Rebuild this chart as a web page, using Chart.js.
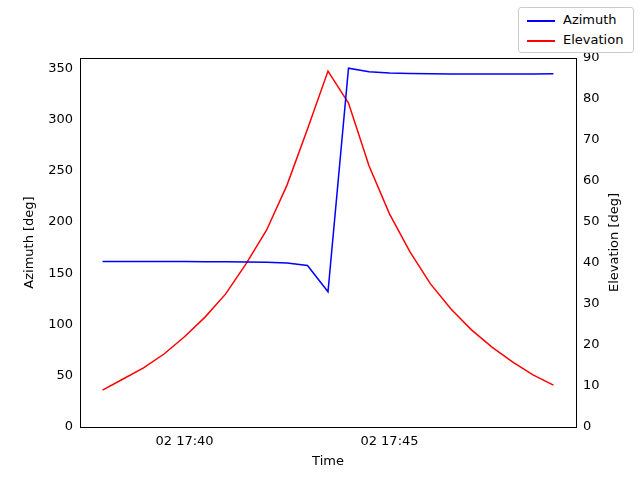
<!DOCTYPE html>
<html>
<head>
<meta charset="utf-8">
<script src="https://cdn.jsdelivr.net/npm/chart.js@4"></script>
<style>
body { margin: 0; background: #fff; }
#wrap { position: relative; width: 640px; height: 480px; }
#legend { position: absolute; left: 518px; top: 7px; width: 114px; height: 44px; border: 1px solid #ccc; border-radius: 3px; background: #fff;
  font: 13px "DejaVu Sans", sans-serif; color: #000; }
#legend div { height: 20px; line-height: 20px; padding-left: 8px; }
#legend span { display: inline-block; width: 28px; height: 2px; vertical-align: middle; margin-right: 8px; }
</style>
</head>
<body>
<div id="wrap">
<canvas id="c" width="640" height="480"></canvas>
<div id="legend">
  <div style="margin-top:2px"><span style="background:blue"></span>Azimuth</div>
  <div><span style="background:red"></span>Elevation</div>
</div>
</div>
<script>
// minutes after 17:00, every 30 s
const times = [38, 38.5, 39, 39.5, 40, 40.5, 41, 41.5, 42, 42.5, 43, 43.5, 44, 44.5, 45, 45.5, 46, 46.5, 47, 47.5, 48, 48.5, 49];
const azimuth = [161.5, 161.5, 161.5, 161.5, 161.4, 161.3, 161.2, 161, 160.7, 160, 157.5, 132, 350, 346.5, 345.3, 344.9, 344.6, 344.5, 344.5, 344.5, 344.5, 344.5, 344.6];
const elevation = [9, 11.7, 14.4, 17.8, 22, 26.8, 32.4, 39.8, 48, 59, 72.7, 86.8, 79, 63.7, 52, 42.7, 34.9, 28.8, 23.7, 19.5, 15.9, 12.7, 10.2];
const timeTicks = [40, 45];

const font = { family: "DejaVu Sans", size: 13 };
const pts = arr => times.map((t, i) => ({ x: t, y: arr[i] }));

new Chart(document.getElementById("c"), {
    type: "line",
    data: {
        datasets: [
            { label: "Azimuth", data: pts(azimuth), borderColor: "blue", borderWidth: 1.5, pointRadius: 0, yAxisID: "y" },
            { label: "Elevation", data: pts(elevation), borderColor: "red", borderWidth: 1.5, pointRadius: 0, yAxisID: "y2" }
        ]
    },
    options: {
        responsive: false,
        animation: false,
        layout: { padding: { top: 58, right: 0, bottom: 0, left: 0 } },
        plugins: { legend: { display: false }, tooltip: { enabled: false } },
        scales: {
            x: {
                type: "linear", min: 37.45, max: 49.55,
                grid: { display: false, drawTicks: true, tickLength: 4, tickColor: "#000" },
                border: { color: "#000" },
                afterBuildTicks: s => { s.ticks = timeTicks.map(v => ({ value: v })); },
                afterFit: s => { s.height = 53; },
                ticks: { color: "#000", font, maxRotation: 0, callback: v => "02 17:" + String(v).padStart(2, "0") }
            },
            y: {
                position: "left", min: 0, max: 360,
                grid: { display: false, tickLength: 4, tickColor: "#000" },
                border: { color: "#000" },
                afterBuildTicks: s => { s.ticks = [0, 50, 100, 150, 200, 250, 300, 350].map(v => ({ value: v })); },
                afterFit: s => { s.width = 80; },
                ticks: { color: "#000", font }
            },
            y2: {
                position: "right", min: 0, max: 90,
                grid: { display: false, tickLength: 4, tickColor: "#000" },
                border: { color: "#000" },
                afterBuildTicks: s => { s.ticks = [0, 10, 20, 30, 40, 50, 60, 70, 80, 90].map(v => ({ value: v })); },
                afterFit: s => { s.width = 64; },
                ticks: { color: "#000", font }
            }
        }
    },
    plugins: [{
        id: "frame",
        afterDraw(chart) {
            const { ctx, chartArea: a } = chart;
            ctx.save();
            ctx.strokeStyle = "#000";
            ctx.lineWidth = 1;
            ctx.strokeRect(a.left + 0.5, a.top + 0.5, a.right - a.left, a.bottom - a.top);
            // titres des axes
            ctx.fillStyle = "#000";
            ctx.font = "13px 'DejaVu Sans'";
            ctx.textAlign = "center";
            ctx.textBaseline = "middle";
            const midY = (a.top + a.bottom) / 2;
            ctx.fillText("Time", (a.left + a.right) / 2, 462);
            [["Azimuth [deg]", 30], ["Elevation [deg]", 615]].forEach(([t, x]) => {
                ctx.save();
                ctx.translate(x, midY);
                ctx.rotate(-Math.PI / 2);
                ctx.fillText(t, 0, 0);
                ctx.restore();
            });
            ctx.restore();
        }
    }]
});
</script>
</body>
</html>
